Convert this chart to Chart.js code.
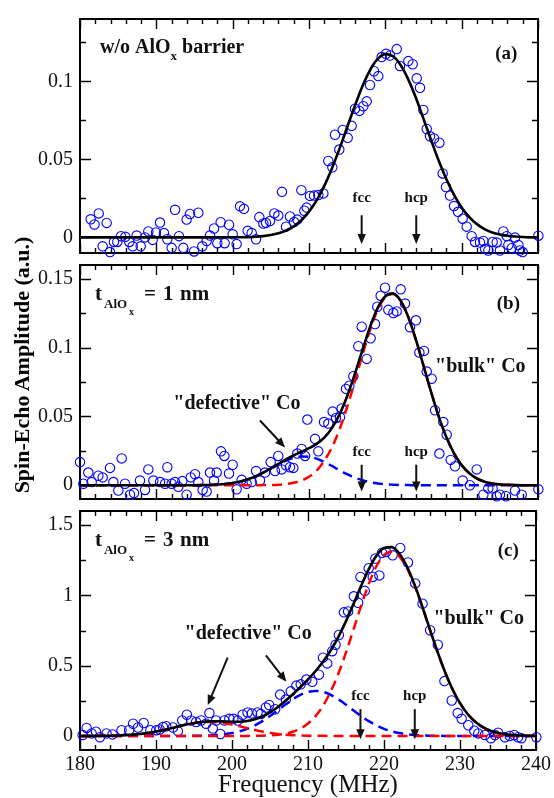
<!DOCTYPE html>
<html><head><meta charset="utf-8">
<script src="https://cdn.jsdelivr.net/npm/chart.js@4/dist/chart.umd.min.js"></script>
<style>
html,body{margin:0;padding:0;background:#fff;}
#wrap{position:relative;width:554px;height:798px;overflow:hidden;background:#fff;}
canvas{position:absolute;left:0;}
#ytitle{position:absolute;left:-129px;top:353px;width:300px;height:24px;line-height:24px;text-align:center;transform:rotate(-90deg);font:bold 22px "Liberation Serif",serif;color:#000;white-space:nowrap;}
</style></head>
<body><div id="wrap">
<canvas id="cA" width="554" height="272" style="top:0px"></canvas>
<canvas id="cB" width="554" height="272" style="top:246px"></canvas>
<canvas id="cC" width="554" height="306" style="top:492px"></canvas>
<div id="ytitle">Spin-Echo Amplitude (a.u.)</div>
</div>
<script>
// ---------- tick values / labels ----------
const xTicks = [180,190,200,210,220,230,240];
const xTickLabels = ['180','190','200','210','220','230','240'];
const yTicksA = [0,0.05,0.1];       const yLabelsA = ['0','0.05','0.1'];
const yTicksB = [0,0.05,0.1,0.15];  const yLabelsB = ['0','0.05','0.1','0.15'];
const yTicksC = [0,0.5,1,1.5];      const yLabelsC = ['0','0.5','1','1.5'];

// ---------- panel (a) data ----------
const freqA = [181.4,181.9,182.45,182.97,183.49,183.93,184.45,184.89,185.37,185.94,186.46,186.9,187.42,187.95,188.52,188.95,189.52,189.96,190.48,191.0,191.44,192.01,192.45,192.97,193.54,193.97,194.41,194.94,195.5,196.03,196.59,197.03,197.56,197.99,198.43,198.95,199.52,200.0,200.52,200.96,201.48,201.96,202.49,203.06,203.49,204.02,204.37,204.89,205.46,205.98,206.46,206.99,207.51,208.04,208.47,209.0,209.39,209.7,210.13,210.66,211.22,211.88,212.53,213.06,213.41,213.97,214.41,215.07,215.59,216.03,216.6,217.12,217.56,217.99,218.52,219.08,219.52,220.09,220.61,221.49,221.92,223.01,223.58,224.11,224.54,224.98,225.42,225.85,226.38,227.08,227.51,227.95,228.47,229.0,229.52,230.13,230.66,231.31,231.75,232.4,232.84,233.06,233.49,234.06,234.59,235.02,235.46,235.9,236.12,236.55,236.99,237.43,237.64,237.99,240.05];
const ampA = [0.0116,0.0083,0.0154,-0.0057,0.0093,-0.0094,-0.0029,-0.0029,0.0008,0.0004,-0.0029,-0.0057,0.0012,-0.0057,0.0,0.0038,-0.0016,0.0032,0.0095,0.0028,-0.0012,-0.0067,0.0177,0.0008,-0.0067,0.0114,0.015,-0.009,0.0158,-0.0057,-0.0023,0.0012,0.0057,-0.0037,0.0097,-0.0037,0.0081,0.002,-0.0043,0.0199,0.0183,0.0042,0.0028,-0.0012,0.013,0.0089,0.0093,0.0105,0.0154,0.014,0.0292,0.0069,0.0134,0.0099,0.0114,0.0303,0.0171,0.0191,0.0266,0.0268,0.0272,0.0282,0.049,0.0449,0.0658,0.0563,0.0689,0.0638,0.0715,0.0825,0.0811,0.0841,0.0872,0.0977,0.1065,0.1034,0.1156,0.1177,0.1166,0.1207,0.1099,0.113,0.111,0.102,0.0959,0.0817,0.0695,0.0648,0.0634,0.0607,0.041,0.0323,0.0268,0.0201,0.0164,0.012,0.0069,0.0008,-0.0029,-0.0033,-0.0023,-0.0073,-0.0084,-0.0029,-0.0033,-0.0084,0.0038,0.0008,-0.0049,-0.0069,-0.0001,-0.0049,-0.0084,-0.0094,0.0011];

// ---------- panel (b) data ----------
const freqB = [180.0,180.44,181.09,181.53,182.4,182.97,183.93,184.37,185.02,185.46,185.9,186.55,187.07,187.86,188.52,188.95,189.61,190.48,191.14,191.44,192.01,192.45,192.88,193.41,193.97,194.5,195.07,195.5,196.07,196.59,197.03,197.56,197.91,198.47,198.91,199.52,200.0,200.52,201.18,201.83,202.49,203.06,203.58,204.24,204.98,205.55,205.98,206.42,206.99,207.51,207.95,208.47,209.04,209.48,209.78,210.79,211.22,211.97,212.53,213.1,213.54,214.06,214.28,214.85,215.28,215.81,216.46,216.9,217.56,218.08,218.65,218.95,219.39,219.96,220.39,221.05,221.49,222.01,222.58,223.23,224.02,224.46,225.07,225.42,226.07,226.51,227.08,227.6,228.04,228.56,229.13,230.13,231.09,231.97,232.84,233.49,234.06,234.59,235.02,235.81,236.99,237.86,240.05];
const ampB = [0.0168,0.0011,0.0092,0.0023,0.0069,0.0057,0.0126,0.0023,-0.0039,0.0195,0.0011,-0.0069,-0.0057,0.0034,-0.0034,0.0115,0.0034,0.0023,0.0011,0.0131,0.0011,0.0023,-0.0011,0.003,-0.0069,0.0057,0.008,0.0023,-0.0034,-0.0046,0.0092,0.0034,0.0092,0.0246,0.0213,0.0085,0.0149,-0.003,0.0039,0.0011,0.0023,0.0103,0.0034,0.0092,0.0168,0.0103,0.0213,0.0115,0.0145,0.0131,0.0126,0.023,0.0264,0.0213,0.0477,0.0337,0.0246,0.0459,0.0448,0.0535,0.0489,0.0494,0.0558,0.07,0.0723,0.0792,0.101,0.1152,0.0918,0.1067,0.1171,0.1297,0.1377,0.1435,0.1274,0.1251,0.1263,0.1423,0.132,0.1148,0.1198,0.0964,0.0976,0.0826,0.0774,0.0544,0.023,0.0459,0.0367,0.0184,0.0138,0.0034,0.0,0.0115,-0.0069,-0.0023,-0.0023,-0.008,-0.0069,-0.008,-0.0039,-0.0069,-0.003];

// ---------- panel (c) data ----------
const freqC = [180.35,180.87,181.53,182.1,182.62,183.49,184.28,185.46,186.46,186.99,187.64,188.38,189.26,190.04,190.48,190.92,191.35,192.23,192.88,193.45,194.06,194.63,195.28,195.94,196.59,197.03,197.47,197.91,198.47,199.0,199.65,200.18,200.74,201.4,202.05,202.62,203.36,203.8,204.46,204.89,205.68,206.33,207.08,207.73,208.47,209.04,209.78,210.57,211.44,211.97,212.53,213.19,213.63,214.06,214.72,215.28,216.03,216.6,216.9,217.47,217.99,218.52,218.87,219.39,219.74,220.26,221.14,222.14,223.15,224.11,225.07,226.07,227.08,227.95,228.91,229.7,230.22,231.09,231.88,232.4,233.28,234.06,234.6,235.02,235.9,236.55,237.12,237.64,238.08,240.05];
const ampC = [0.007,0.057,0.018,0.03,-0.009,0.018,0.011,0.041,0.041,0.087,0.06,0.092,0.041,0.041,0.046,0.064,0.069,0.06,0.034,0.11,0.151,0.11,0.099,0.11,0.087,0.163,0.053,0.11,0.014,0.11,0.122,0.122,0.11,0.151,0.167,0.16,0.167,0.156,0.202,0.22,0.19,0.294,0.259,0.317,0.358,0.367,0.401,0.385,0.436,0.557,0.516,0.603,0.649,0.718,0.879,0.886,0.993,0.947,1.131,1.032,1.193,1.131,1.262,1.142,1.303,1.308,1.285,1.337,1.234,1.085,0.941,0.752,0.649,0.39,0.252,0.163,0.122,0.076,0.037,0.018,0.007,-0.016,0.007,0.023,-0.009,0.0,0.007,-0.009,-0.016,-0.009];

// ---------- fitted curves (read on a 1 MHz grid) ----------
const fitFreq = [180,181,182,183,184,185,186,187,188,189,190,191,192,193,194,195,196,197,198,199,200,201,202,203,204,205,206,207,208,209,210,211,212,213,214,215,216,217,218,219,220,221,222,223,224,225,226,227,228,229,230,231,232,233,234,235,236,237,238,239,240];
const fitA = [0,0,0,0,0,0,0,0,0,0,0,0,0,0,0,0,0,0,0,0,0.0001,0.0001,0.0002,0.0004,0.0008,0.0015,0.0026,0.0044,0.0071,0.011,0.0165,0.0237,0.033,0.0442,0.0569,0.0706,0.0842,0.0969,0.1073,0.1144,0.1175,0.1161,0.1105,0.1013,0.0895,0.076,0.0623,0.0491,0.0373,0.0273,0.0192,0.013,0.0085,0.0053,0.0032,0.0019,0.0011,0.0006,0.0003,0.0001,0];
const fitB_total = [0,0,0,0,0,0,0,0,0,0,0,0,0,0,0,0,0.0001,0.0002,0.0005,0.0009,0.0016,0.0027,0.0043,0.0064,0.0092,0.0123,0.0156,0.0188,0.0218,0.0243,0.0269,0.03,0.0346,0.0415,0.0515,0.0647,0.0807,0.0982,0.115,0.1288,0.1373,0.1394,0.134,0.1223,0.1058,0.0869,0.0677,0.0499,0.0349,0.0232,0.0146,0.0087,0.0049,0.0026,0.0013,0.0006,0.0003,0.0001,0,0,0];
const fitB_bulk = [0,0,0,0,0,0,0,0,0,0,0,0,0,0,0,0,0,0,0,0,0,0,0,0,0.0001,0.0002,0.0004,0.0009,0.0018,0.0034,0.0062,0.0107,0.0177,0.0275,0.0406,0.0567,0.0752,0.0946,0.1128,0.1275,0.1366,0.139,0.1338,0.1222,0.1058,0.0869,0.0677,0.0499,0.0349,0.0232,0.0146,0.0087,0.0049,0.0026,0.0013,0.0006,0.0003,0.0001,0,0,0];
const fitB_defect = [0,0,0,0,0,0,0,0,0,0,0,0,0,0,0,0,0.0001,0.0002,0.0005,0.0009,0.0016,0.0027,0.0043,0.0064,0.0091,0.0121,0.0152,0.0179,0.02,0.0209,0.0207,0.0193,0.0169,0.014,0.0109,0.008,0.0055,0.0036,0.0022,0.0013,0.0007,0.0004,0.0002,0.0001,0,0,0,0,0,0,0,0,0,0,0,0,0,0,0,0,0];
const fitC_total = [0.0001,0.0002,0.0005,0.0009,0.0018,0.0032,0.0056,0.0093,0.0145,0.0218,0.0311,0.0424,0.0551,0.0683,0.0811,0.0919,0.0995,0.1037,0.1045,0.1031,0.1012,0.1013,0.1063,0.118,0.1381,0.1672,0.2042,0.2479,0.2963,0.3478,0.4026,0.4621,0.5298,0.6098,0.7049,0.8164,0.9403,1.0682,1.187,1.2817,1.3368,1.343,1.2975,1.2072,1.0799,0.9267,0.7639,0.6049,0.4584,0.334,0.233,0.156,0.1006,0.062,0.0367,0.0208,0.0113,0.0059,0.003,0.0014,0.0007];
const fitC_bulk = [0,0,0,0,0,0,0,0,0,0,0,0,0,0,0,0,0,0,0,0,0,0,0.0004,0.0009,0.002,0.0042,0.0084,0.0162,0.0299,0.0524,0.088,0.1412,0.2165,0.3174,0.444,0.594,0.759,0.927,1.082,1.207,1.286,1.31,1.277,1.195,1.073,0.923,0.762,0.604,0.458,0.334,0.233,0.156,0.1006,0.062,0.0367,0.0208,0.0113,0.0059,0.003,0.0014,0.0007];
const fitC_defect = [0,0,0,0,0,0,0,0,0,0,0,0,0,0,0.0004,0.001,0.0019,0.0037,0.0069,0.0122,0.0205,0.033,0.0508,0.0747,0.105,0.1412,0.1813,0.2224,0.2608,0.2922,0.3128,0.32,0.3128,0.2922,0.2608,0.2224,0.1813,0.1412,0.105,0.0747,0.0508,0.033,0.0205,0.0122,0.0069,0.0037,0.0019,0.0009,0.0004,0,0,0,0,0,0,0,0,0,0,0,0];
const fitC_low = [0.0001,0.0002,0.0005,0.0009,0.0018,0.0032,0.0056,0.0093,0.0145,0.0218,0.0311,0.0424,0.0551,0.0683,0.0807,0.0909,0.0976,0.1,0.0976,0.0909,0.0807,0.0683,0.0551,0.0424,0.0311,0.0218,0.0145,0.0093,0.0056,0.0032,0.0018,0.0009,0.0005,0.0002,0.0001,0,0,0,0,0,0,0,0,0,0,0,0,0,0,0,0,0,0,0,0,0,0,0,0,0,0];

// ---------- helpers ----------
const SERIF = '"Liberation Serif","Times New Roman",serif';
const pts = (xs, ys) => xs.map((x, i) => ({x: x, y: ys[i]}));

function scatterSet(xs, ys) {
  return {data: pts(xs, ys), showLine: false, pointStyle: 'circle', pointRadius: 4.7,
          pointBorderWidth: 1.1, pointBorderColor: '#0000ff', pointBackgroundColor: 'rgba(0,0,0,0)',
          clip: false, order: 5};
}
function curveSet(ys, color, dashed, order) {
  return {data: pts(fitFreq, ys), showLine: true, pointRadius: 0, borderColor: color,
          borderWidth: dashed ? 2.5 : 2.6, borderDash: dashed ? [10, 6] : [],
          cubicInterpolationMode: 'monotone', fill: false, clip: false, order: order};
}

function bfont(s) { return 'bold ' + s + 'px ' + SERIF; }

const deco = {
  id: 'deco',
  beforeDatasetsDraw(chart, args, o) {
    const ctx = chart.ctx, a = chart.chartArea, X = chart.scales.x, Y = chart.scales.y;
    ctx.save();
    ctx.strokeStyle = '#000';
    ctx.lineWidth = 1.4;
    ctx.beginPath();
    for (let v = 180; v <= 240; v += 2) {
      const px = Math.round(X.getPixelForValue(v)) + 0.5;
      const L = (v % 10 === 0) ? 10 : 5;
      ctx.moveTo(px, a.bottom); ctx.lineTo(px, a.bottom - L);
      ctx.moveTo(px, a.top); ctx.lineTo(px, a.top + L);
    }
    const step = o.yMinor;
    const k0 = Math.ceil(Y.min / step - 1e-9), k1 = Math.floor(Y.max / step + 1e-9);
    for (let k = k0; k <= k1; k++) {
      const v = k * step;
      const major = o.yMajor.some(m => Math.abs(m - v) < step / 10);
      const L = major ? 11 : 6;
      const py = Math.round(Y.getPixelForValue(v)) + 0.5;
      ctx.moveTo(a.left, py); ctx.lineTo(a.left + L, py);
      ctx.moveTo(a.right, py); ctx.lineTo(a.right - L, py);
    }
    ctx.stroke();
    ctx.lineWidth = 2;
    ctx.strokeRect(a.left, a.top, a.right - a.left, a.bottom - a.top);
    ctx.restore();
  },
  afterDatasetsDraw(chart, args, o) {
    const ctx = chart.ctx, X = chart.scales.x, Y = chart.scales.y;
    ctx.save();
    ctx.fillStyle = '#111';
    ctx.strokeStyle = '#111';
    ctx.textBaseline = 'alphabetic';
    (o.texts || []).forEach(it => {
      const x0 = X.getPixelForValue(it.f), y0 = Y.getPixelForValue(it.v);
      let w = 0;
      it.parts.forEach(p => { ctx.font = bfont(p.size); w += ctx.measureText(p.t).width; });
      let start = x0;
      if (it.align === 'right') start = x0 - w;
      else if (it.align === 'center') start = x0 - w / 2;
      let cx = start;
      it.parts.forEach(p => {
        ctx.font = bfont(p.size);
        if (p.dx !== undefined) cx = start + p.dx;
        ctx.textAlign = 'left';
        ctx.fillText(p.t, cx, y0 + (p.dy || 0));
        cx += ctx.measureText(p.t).width;
      });
    });
    (o.arrows || []).forEach(ar => {
      const x1 = X.getPixelForValue(ar.f1), y1 = Y.getPixelForValue(ar.v1);
      const x2 = X.getPixelForValue(ar.f2), y2 = Y.getPixelForValue(ar.v2);
      const ang = Math.atan2(y2 - y1, x2 - x1), c = Math.cos(ang), s = Math.sin(ang);
      const hl = 10, hw = 4.2;
      ctx.lineWidth = 2;
      ctx.beginPath(); ctx.moveTo(x1, y1); ctx.lineTo(x2 - hl * 0.7 * c, y2 - hl * 0.7 * s); ctx.stroke();
      ctx.beginPath();
      ctx.moveTo(x2, y2);
      ctx.lineTo(x2 - hl * c + hw * s, y2 - hl * s - hw * c);
      ctx.lineTo(x2 - hl * c - hw * s, y2 - hl * s + hw * c);
      ctx.closePath(); ctx.fill();
    });
    ctx.restore();
  }
};

function yScale(min, max, ticks, labels) {
  return {
    type: 'linear', min: min, max: max, position: 'left',
    afterBuildTicks: s => { s.ticks = ticks.map(v => ({value: v})); },
    afterFit: s => { s.width = 80; },
    ticks: {callback: (v) => labels[ticks.findIndex(t => Math.abs(t - v) < 1e-9)],
            font: {family: SERIF, size: 20}, color: '#111', padding: 7, autoSkip: false},
    grid: {display: false, drawTicks: false}, border: {display: false}
  };
}
function xScale(show) {
  const sc = {
    type: 'linear', min: 180, max: 240, position: 'bottom', display: show,
    afterBuildTicks: s => { s.ticks = xTicks.map(v => ({value: v})); },
    ticks: {callback: (v) => xTickLabels[xTicks.indexOf(v)], font: {family: SERIF, size: 20},
            color: '#111', padding: 3, maxRotation: 0, autoSkip: false},
    grid: {display: false, drawTicks: false}, border: {display: false}
  };
  if (show) {
    sc.title = {display: true, text: 'Frequency (MHz)', font: {family: SERIF, size: 25, lineHeight: 1.0},
                color: '#111', padding: {top: 0, bottom: 0}};
    sc.afterFit = s => { s.height = 48; };
  }
  return sc;
}
function makeChart(id, datasets, yS, showX, pad, decoOpts) {
  return new Chart(document.getElementById(id), {
    type: 'scatter',
    data: {datasets: datasets},
    options: {
      responsive: false, animation: false, devicePixelRatio: 1,
      layout: {padding: pad},
      scales: {x: xScale(showX), y: yS},
      plugins: {legend: {display: false}, tooltip: {enabled: false}, deco: decoOpts}
    },
    plugins: [deco]
  });
}

const fccF = 216.9, hcpF = 224.05;

function tLabel(f, v, num) {
  return {f: f, v: v, parts: [
    {t: 't', size: 21, dx: 0}, {t: 'AlO', size: 13, dx: 9, dy: 8}, {t: 'x', size: 10, dx: 34, dy: 15},
    {t: '=', size: 21, dx: 49}, {t: num, size: 21, dx: 68}, {t: 'nm', size: 21, dx: 85}]};
}

// panel (a)
makeChart('cA', [
  curveSet(fitA, '#000', false, 1),
  scatterSet(freqA, ampA)
], yScale(-0.01, 0.14, yTicksA, yLabelsA), false, {top: 12, bottom: 14, left: 0, right: 16}, {
  yMajor: yTicksA, yMinor: 0.025,
  texts: [
    {f: 182.62, v: 0.1185, parts: [{t: 'w/o AlO', size: 20}, {t: 'x', size: 13, dy: 7}, {t: ' barrier', size: 20}]},
    {f: 237.3, v: 0.1142, align: 'right', parts: [{t: '(a)', size: 19}]},
    {f: fccF, v: 0.0227, align: 'center', parts: [{t: 'fcc', size: 15}]},
    {f: hcpF, v: 0.0227, align: 'center', parts: [{t: 'hcp', size: 15}]}
  ],
  arrows: [
    {f1: fccF, v1: 0.0142, f2: fccF, v2: -0.0043},
    {f1: hcpF, v1: 0.0142, f2: hcpF, v2: -0.0043}
  ]
});

// panel (b)
makeChart('cB', [
  curveSet(fitB_total, '#000', false, 1),
  curveSet(fitB_bulk, '#ff0000', true, 2),
  curveSet(fitB_defect, '#0000ff', true, 3),
  scatterSet(freqB, ampB)
], yScale(-0.01, 0.16, yTicksB, yLabelsB), false, {top: 12, bottom: 14, left: 0, right: 16}, {
  yMajor: yTicksB, yMinor: 0.025,
  texts: [
    tLabel(181.97, 0.1343, '1'),
    {f: 237.64, v: 0.1279, align: 'right', parts: [{t: '(b)', size: 19}]},
    {f: 226.51, v: 0.082, parts: [{t: '"bulk" Co', size: 20}]},
    {f: 192.22, v: 0.0551, parts: [{t: '"defective" Co', size: 20}]},
    {f: fccF, v: 0.0213, align: 'center', parts: [{t: 'fcc', size: 15}]},
    {f: hcpF, v: 0.0213, align: 'center', parts: [{t: 'hcp', size: 15}]}
  ],
  arrows: [
    {f1: 203.58, v1: 0.047, f2: 206.86, v2: 0.0275},
    {f1: fccF, v1: 0.0149, f2: fccF, v2: -0.0046},
    {f1: hcpF, v1: 0.0149, f2: hcpF, v2: -0.0046}
  ]
});

// panel (c)
makeChart('cC', [
  curveSet(fitC_total, '#000', false, 1),
  curveSet(fitC_bulk, '#ff0000', true, 2),
  curveSet(fitC_low, '#ff0000', true, 3),
  curveSet(fitC_defect, '#0000ff', true, 4),
  scatterSet(freqC, ampC)
], yScale(-0.1, 1.6, yTicksC, yLabelsC), true, {top: 12, bottom: 0, left: 0, right: 16}, {
  yMajor: yTicksC, yMinor: 0.25,
  texts: [
    tLabel(181.97, 1.349, '3'),
    {f: 237.73, v: 1.28, align: 'right', parts: [{t: '(c)', size: 19}]},
    {f: 226.51, v: 0.793, parts: [{t: '"bulk" Co', size: 20}]},
    {f: 193.76, v: 0.688, parts: [{t: '"defective" Co', size: 20}]},
    {f: fccF, v: 0.2546, align: 'center', parts: [{t: 'fcc', size: 15}]},
    {f: hcpF, v: 0.2546, align: 'center', parts: [{t: 'hcp', size: 15}]}
  ],
  arrows: [
    {f1: 199.43, v1: 0.557, f2: 196.81, v2: 0.22},
    {f1: 204.46, v1: 0.573, f2: 207.16, v2: 0.385},
    {f1: fccF, v1: 0.1906, f2: fccF, v2: -0.0227},
    {f1: hcpF, v1: 0.1906, f2: hcpF, v2: -0.0227}
  ]
});
</script>
</body></html>
